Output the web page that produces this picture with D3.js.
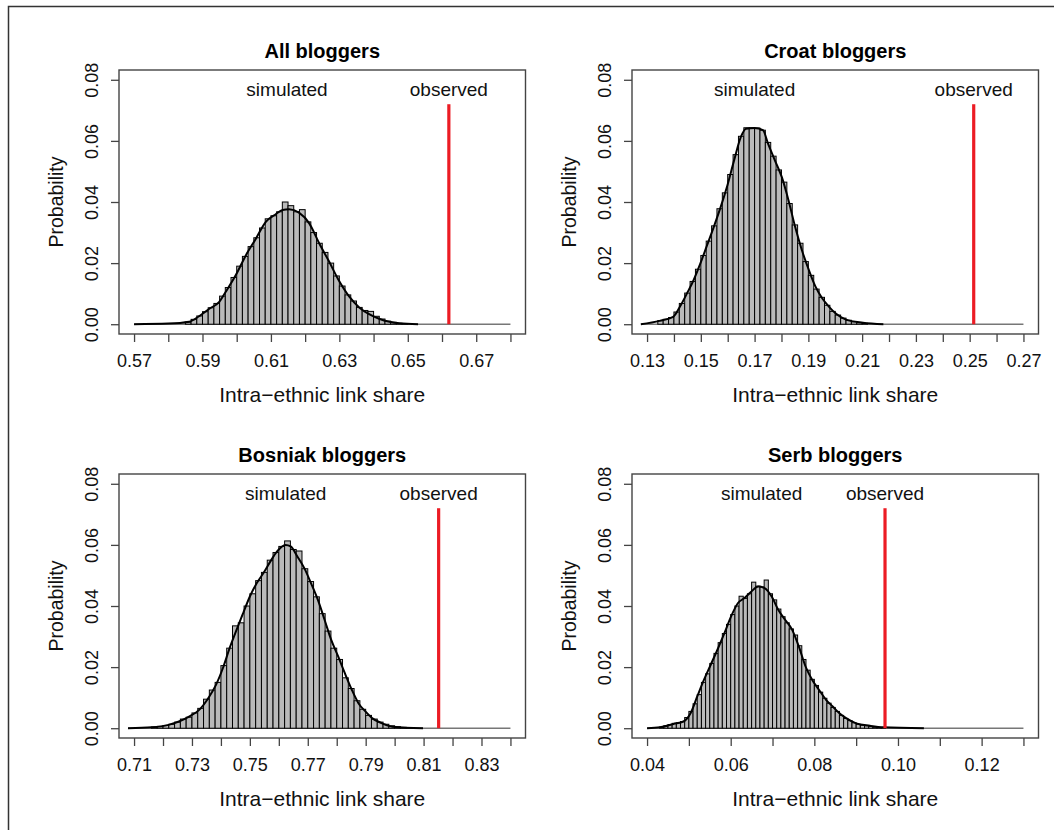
<!DOCTYPE html>
<html>
<head>
<meta charset="utf-8">
<script src="https://cdn.jsdelivr.net/npm/d3@7"></script>
<style>
  body { margin: 0; background: #fff; }
  svg { display: block; font-family: "Liberation Sans", Arial, Helvetica, sans-serif; }
</style>
</head>
<body>
<script>
// panel titles
var titles = ["All bloggers", "Croat bloggers", "Bosniak bloggers", "Serb bloggers"];

// x axis ticks, one every 0.01 (only every other one gets a label)
var xTicks = [
    [0.57, 0.58, 0.59, 0.60, 0.61, 0.62, 0.63, 0.64, 0.65, 0.66, 0.67, 0.68],
    [0.13, 0.14, 0.15, 0.16, 0.17, 0.18, 0.19, 0.20, 0.21, 0.22, 0.23, 0.24, 0.25, 0.26, 0.27],
    [0.71, 0.72, 0.73, 0.74, 0.75, 0.76, 0.77, 0.78, 0.79, 0.80, 0.81, 0.82, 0.83, 0.84],
    [0.04, 0.05, 0.06, 0.07, 0.08, 0.09, 0.10, 0.11, 0.12, 0.13]
];
var yTicks = [0, 0.02, 0.04, 0.06, 0.08];

// histogram bins: first edge and width of each panel
var binStart = [0.585, 0.134, 0.716, 0.043];
var binWidth = [0.01 / 6, 0.002, 0.002, 0.001];

// simulated probabilities, one per bin
var allProb = [0.0007, 0.0016, 0.0027, 0.0041, 0.0054, 0.0068, 0.0092, 0.0120, 0.0153, 0.0190,
    0.0222, 0.0254, 0.0283, 0.0315, 0.0345, 0.0355, 0.0368, 0.0400, 0.0388, 0.0368,
    0.0375, 0.0335, 0.0300, 0.0265, 0.0235, 0.0200, 0.0158, 0.0125, 0.0096, 0.0076,
    0.0055, 0.0045, 0.0042, 0.0026, 0.0017, 0.0010, 0.0006, 0.0003, 0.0002];
var croatProb = [0.0012, 0.0016, 0.0022, 0.0040, 0.0068, 0.0102, 0.0140, 0.0180, 0.0225, 0.0272,
    0.0322, 0.0378, 0.0430, 0.0490, 0.0555, 0.0615, 0.0643, 0.0643, 0.0642, 0.0635,
    0.0595, 0.0550, 0.0505, 0.0465, 0.0395, 0.0325, 0.0265, 0.0205, 0.0160, 0.0115,
    0.0088, 0.0062, 0.0042, 0.0030, 0.0020, 0.0013, 0.0008, 0.0005, 0.0003];
var bosniakProb = [0.0004, 0.0006, 0.0009, 0.0013, 0.0020, 0.0030, 0.0036, 0.0050, 0.0065, 0.0095,
    0.0125, 0.0150, 0.0205, 0.0262, 0.0335, 0.0345, 0.0400, 0.0440, 0.0483, 0.0510,
    0.0550, 0.0575, 0.0595, 0.0613, 0.0585, 0.0580, 0.0522, 0.0480, 0.0430, 0.0375,
    0.0318, 0.0262, 0.0225, 0.0165, 0.0130, 0.0090, 0.0062, 0.0042, 0.0030, 0.0020,
    0.0013, 0.0008, 0.0005, 0.0003, 0.0002];
var serbProb = [0.0004, 0.0008, 0.0012, 0.0016, 0.0018, 0.0022, 0.0035, 0.0055, 0.0080, 0.0110,
    0.0150, 0.0178, 0.0212, 0.0245, 0.0280, 0.0310, 0.0340, 0.0372, 0.0400, 0.0432,
    0.0425, 0.0440, 0.0478, 0.0465, 0.0462, 0.0485, 0.0440, 0.0420, 0.0390, 0.0365,
    0.0345, 0.0325, 0.0305, 0.0270, 0.0225, 0.0190, 0.0160, 0.0140, 0.0118, 0.0098,
    0.0082, 0.0068, 0.0055, 0.0042, 0.0032, 0.0025, 0.0018, 0.0013, 0.0010, 0.0008,
    0.0006, 0.0004, 0.0003, 0.0002];
var probs = [allProb, croatProb, bosniakProb, serbProb];

// smooth simulated curve (black line): share, probability
var allCurveX = [0.570, 0.580, 0.5861, 0.5890, 0.5919, 0.5949, 0.5968, 0.5997, 0.6027, 0.6056, 0.6085,
    0.6114, 0.6134, 0.6153, 0.6182, 0.6212, 0.6241, 0.6270, 0.6299, 0.6329, 0.6358, 0.6387,
    0.6416, 0.6446, 0.6475, 0.653];
var allCurveY = [0, 0.0002, 0.0008, 0.0026, 0.0050, 0.0073, 0.0106, 0.0160, 0.0226, 0.0280, 0.0335,
    0.0360, 0.0374, 0.0376, 0.0365, 0.0330, 0.0265, 0.0205, 0.0142, 0.0090, 0.0055, 0.0033,
    0.0018, 0.0008, 0.0003, 0];
var croatCurveX = [0.1277, 0.1347, 0.1397, 0.1422, 0.1448, 0.1473, 0.1498, 0.1523, 0.1548, 0.1574,
    0.1599, 0.1624, 0.1649, 0.1668, 0.1700, 0.1731, 0.1750, 0.1775, 0.1801, 0.1826, 0.1851,
    0.1876, 0.1902, 0.1927, 0.1952, 0.1977, 0.2002, 0.2040, 0.2103, 0.2179];
var croatCurveY = [0, 0.0011, 0.0024, 0.0057, 0.0100, 0.0144, 0.0198, 0.0258, 0.0318, 0.0384,
    0.0455, 0.0537, 0.0613, 0.0640, 0.0642, 0.0635, 0.0591, 0.0537, 0.0482, 0.0406, 0.0318,
    0.0242, 0.0177, 0.0122, 0.0084, 0.0057, 0.0035, 0.0015, 0.0005, 0];
var bosniakCurveX = [0.7079, 0.7161, 0.7219, 0.7255, 0.7290, 0.7325, 0.7360, 0.7383, 0.7407, 0.7430,
    0.7454, 0.7477, 0.7500, 0.7524, 0.7547, 0.7571, 0.7594, 0.7623, 0.7641, 0.7664, 0.7688,
    0.7711, 0.7735, 0.7758, 0.7781, 0.7805, 0.7828, 0.7852, 0.7875, 0.7899, 0.7922, 0.7957,
    0.7992, 0.8098];
var bosniakCurveY = [0, 0.0003, 0.0011, 0.0022, 0.0038, 0.0060, 0.0104, 0.0142, 0.0197, 0.0262,
    0.0322, 0.0377, 0.0431, 0.0475, 0.0508, 0.0546, 0.0579, 0.0600, 0.0595, 0.0562, 0.0524,
    0.0475, 0.0420, 0.0355, 0.0289, 0.0235, 0.0180, 0.0126, 0.0082, 0.0055, 0.0033, 0.0016,
    0.0005, 0];
var serbCurveX = [0.0400, 0.0431, 0.0463, 0.0487, 0.0504, 0.0520, 0.0536, 0.0552, 0.0568, 0.0585,
    0.0601, 0.0617, 0.0633, 0.0649, 0.0666, 0.0682, 0.0698, 0.0714, 0.0730, 0.0747, 0.0763,
    0.0779, 0.0795, 0.0811, 0.0828, 0.0844, 0.0860, 0.0876, 0.0900, 0.0933, 0.0965, 0.1062];
var serbCurveY = [0, 0.0003, 0.0014, 0.0022, 0.0049, 0.0104, 0.0158, 0.0207, 0.0256, 0.0311,
    0.0366, 0.0409, 0.0426, 0.0447, 0.0464, 0.0458, 0.0431, 0.0387, 0.0355, 0.0322, 0.0267,
    0.0202, 0.0158, 0.0126, 0.0093, 0.0071, 0.0049, 0.0033, 0.0016, 0.0008, 0.0003, 0];
var curveX = [allCurveX, croatCurveX, bosniakCurveX, serbCurveX];
var curveY = [allCurveY, croatCurveY, bosniakCurveY, serbCurveY];

// observed share (red line) and where the "simulated" label sits
var observed = [0.662, 0.2515, 0.8152, 0.0969];
var simulatedAt = [0.6147, 0.170, 0.7624, 0.0674];
var observedTop = 0.072;
var labelLevel = 0.077;

// layout
var p = {
    width: 1054,
    height: 830,
    left: [119, 632, 119, 632],
    top: [70, 70, 474, 474],
    plotW: 406.5,
    plotH: 264,
    tick: 8,
};

var svg = d3.select("body").append("svg").attr("width", p.width).attr("height", p.height);

// frame round the whole figure
svg.append("rect")
    .attr("x", 8.5).attr("y", 6.5)
    .attr("width", 2000).attr("height", 2000)
    .style("fill", "none").style("stroke", "#333").style("stroke-width", 1.5);

function drawPanel(k) {
    var L = p.left[k], T = p.top[k], W = p.plotW, H = p.plotH;
    var ticks = xTicks[k];
    var lo = ticks[0], hi = ticks[ticks.length - 1], pad = (hi - lo) * 0.04;

    var x = d3.scaleLinear().domain([lo - pad, hi + pad]).range([L, L + W]);
    var y = d3.scaleLinear().domain([-0.0032, 0.0832]).range([T + H, T]);

    var g = svg.append("g");

    // baseline at zero
    g.append("line")
        .attr("x1", x(curveX[k][0])).attr("x2", x(hi))
        .attr("y1", y(0)).attr("y2", y(0))
        .style("stroke", "#777").style("stroke-width", 1.5);

    // histogram bars
    var bins = probs[k].map(function(v, i) {
        return { x0: binStart[k] + i * binWidth[k], x1: binStart[k] + (i + 1) * binWidth[k], v: v };
    });
    g.selectAll("rect.bar").data(bins).enter().append("rect")
        .attr("class", "bar")
        .attr("x", function(d) { return x(d.x0); })
        .attr("width", function(d) { return x(d.x1) - x(d.x0); })
        .attr("y", function(d) { return y(d.v); })
        .attr("height", function(d) { return y(0) - y(d.v); })
        .style("fill", "#bababa").style("stroke", "#000").style("stroke-width", 1);

    // smooth simulated curve
    var pts = curveX[k].map(function(v, i) { return [v, curveY[k][i]]; });
    var line = d3.line()
        .x(function(d) { return x(d[0]); })
        .y(function(d) { return y(d[1]); })
        .curve(d3.curveMonotoneX);
    g.append("path").attr("d", line(pts))
        .style("fill", "none").style("stroke", "#000").style("stroke-width", 2);

    // observed value
    g.append("line")
        .attr("x1", x(observed[k])).attr("x2", x(observed[k]))
        .attr("y1", y(0)).attr("y2", y(observedTop))
        .style("stroke", "#ec1c24").style("stroke-width", 3.2);

    // labels inside the plot
    g.append("text").attr("x", x(simulatedAt[k])).attr("y", y(labelLevel)).attr("dy", "0.35em")
        .attr("text-anchor", "middle").style("font-size", "19px").style("fill", "#111")
        .text("simulated");
    g.append("text").attr("x", x(observed[k])).attr("y", y(labelLevel)).attr("dy", "0.35em")
        .attr("text-anchor", "middle").style("font-size", "19px").style("fill", "#111")
        .text("observed");

    // box
    g.append("rect").attr("x", L).attr("y", T).attr("width", W).attr("height", H)
        .style("fill", "none").style("stroke", "#444").style("stroke-width", 1.4);

    // x axis
    var xa = g.append("g").attr("transform", "translate(0," + (T + H) + ")")
        .call(d3.axisBottom(x).tickValues(ticks).tickSize(p.tick).tickSizeOuter(0).tickPadding(12)
            .tickFormat(function(d, i) { return i % 2 == 0 ? d3.format(".2f")(d) : ""; }));
    xa.select(".domain").remove();
    xa.selectAll(".tick line").style("stroke", "#444").style("stroke-width", 1.3);
    xa.selectAll("text").style("font-size", "18px").style("fill", "#111").style("font-family", null);

    // y axis
    var ya = g.append("g").attr("transform", "translate(" + L + ",0)")
        .call(d3.axisLeft(y).tickValues(yTicks).tickSize(p.tick).tickSizeOuter(0)
            .tickFormat(d3.format(".2f")));
    ya.select(".domain").remove();
    ya.selectAll(".tick line").style("stroke", "#444").style("stroke-width", 1.3);
    ya.selectAll("text")
        .attr("x", null).attr("dy", null)
        .attr("transform", "translate(-21,0) rotate(-90)")
        .attr("text-anchor", "middle")
        .style("font-size", "18px").style("fill", "#111").style("font-family", null);

    // titles
    g.append("text").attr("x", L + W / 2).attr("y", T - 12)
        .attr("text-anchor", "middle").style("font-size", "20px").style("font-weight", "bold")
        .text(titles[k]);
    g.append("text").attr("x", L + W / 2).attr("y", T + H + 68)
        .attr("text-anchor", "middle").style("font-size", "21px").style("fill", "#111")
        .text("Intra\u2212ethnic link share");
    g.append("text")
        .attr("transform", "translate(" + (L - 56) + "," + (T + H / 2) + ") rotate(-90)")
        .attr("text-anchor", "middle").style("font-size", "19.5px").style("fill", "#111")
        .text("Probability");
}

for (var k = 0; k < 4; k++) {
    drawPanel(k);
}
</script>
</body>
</html>
